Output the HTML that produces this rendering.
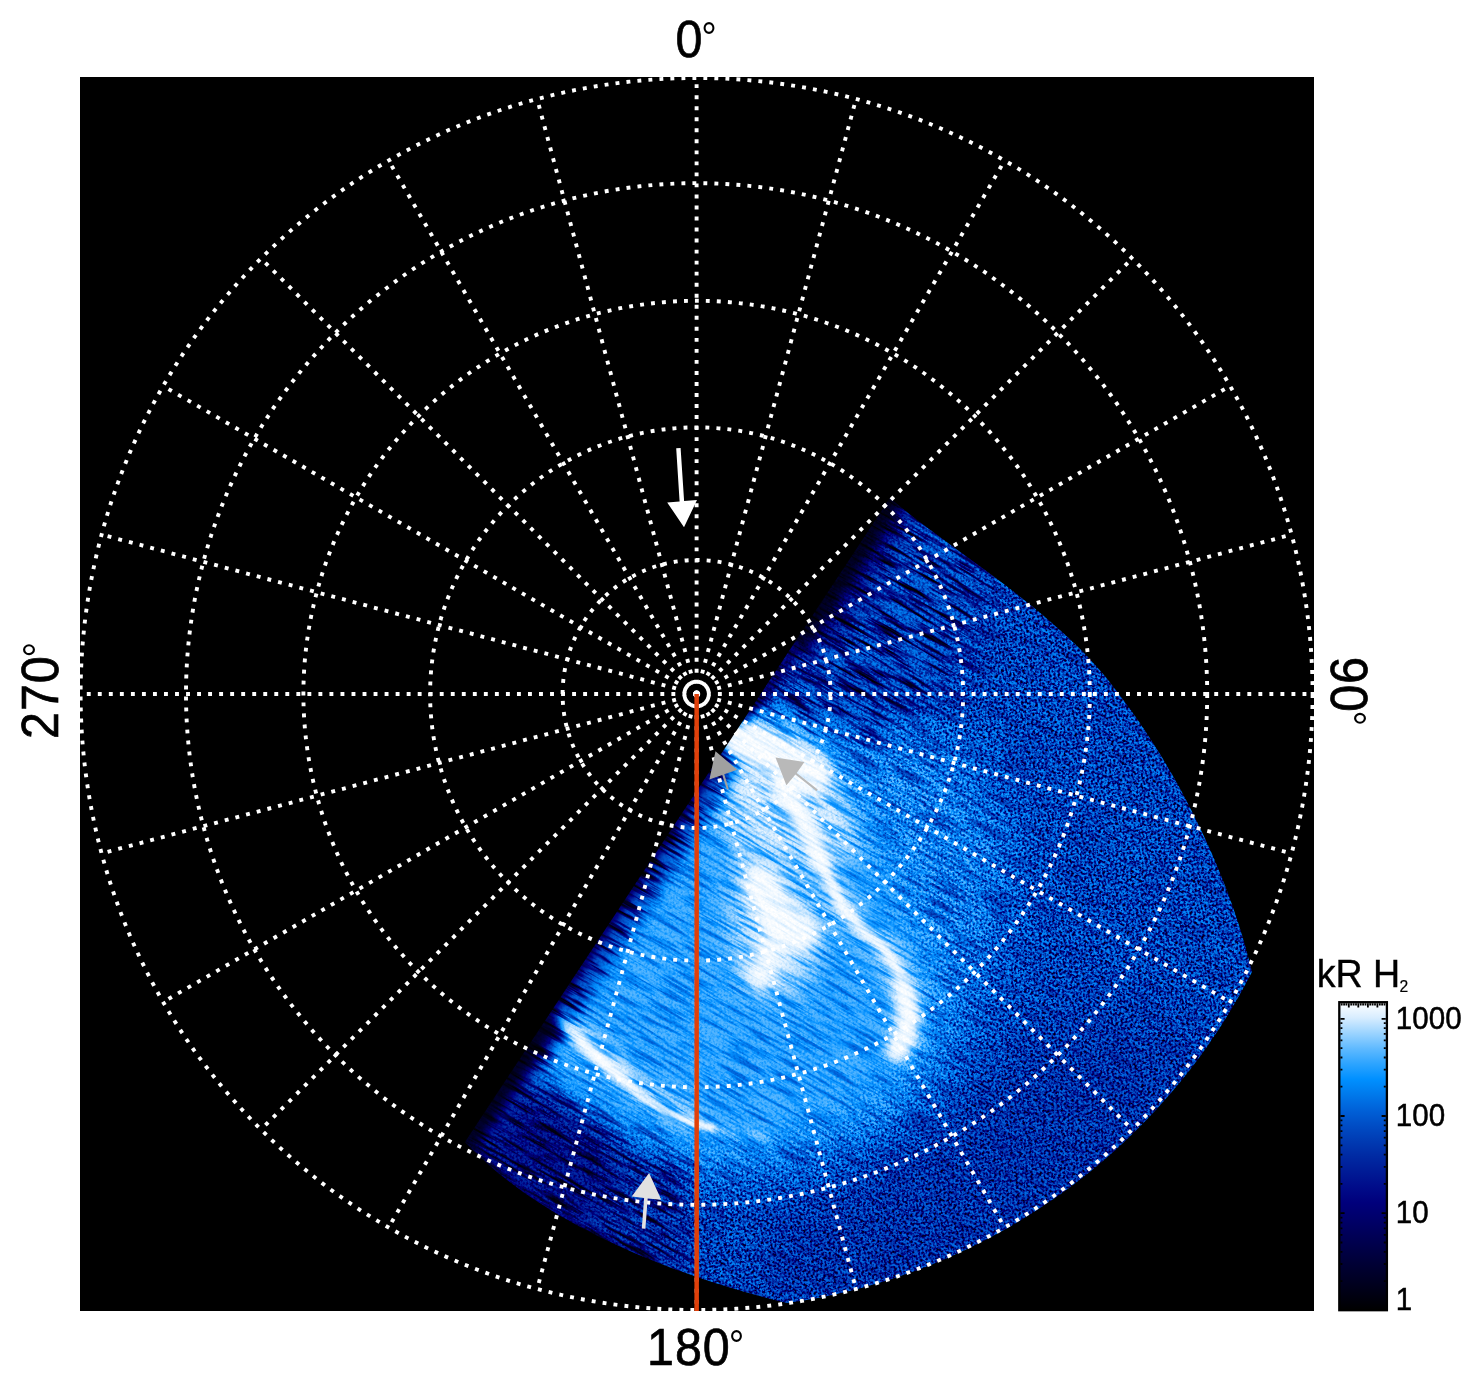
<!DOCTYPE html>
<html lang="en"><head><meta charset="utf-8"><title>Polar projection</title>
<style>
html,body{margin:0;padding:0;background:#fff;}
body{width:1481px;height:1386px;overflow:hidden;position:relative;}
svg{display:block;position:absolute;left:0;top:0;}
text{font-family:"Liberation Sans",sans-serif;fill:#000;}
</style></head><body>
<svg width="1481" height="1386" viewBox="0 0 1481 1386">
<defs>
<clipPath id="cpRect"><rect x="80" y="77" width="1234" height="1234"/></clipPath>
<clipPath id="cpData"><path d="M890,498 C950,550 1062,614 1118,693 C1178,770 1231,880 1252,972 A617,617 0 0 1 787,1303 C670,1275 540,1222 465,1142 Z"/></clipPath>
<linearGradient id="cbg" x1="0" y1="0" x2="0" y2="1"><stop offset="0.00" stop-color="rgb(255,255,255)"/><stop offset="0.05" stop-color="rgb(216,237,255)"/><stop offset="0.10" stop-color="rgb(156,212,255)"/><stop offset="0.15" stop-color="rgb(96,186,255)"/><stop offset="0.20" stop-color="rgb(45,164,255)"/><stop offset="0.25" stop-color="rgb(0,144,255)"/><stop offset="0.30" stop-color="rgb(0,121,235)"/><stop offset="0.35" stop-color="rgb(0,97,216)"/><stop offset="0.40" stop-color="rgb(0,77,197)"/><stop offset="0.45" stop-color="rgb(0,59,179)"/><stop offset="0.50" stop-color="rgb(0,42,163)"/><stop offset="0.55" stop-color="rgb(0,27,150)"/><stop offset="0.60" stop-color="rgb(0,12,138)"/><stop offset="0.65" stop-color="rgb(0,0,124)"/><stop offset="0.70" stop-color="rgb(0,0,107)"/><stop offset="0.75" stop-color="rgb(0,0,89)"/><stop offset="0.80" stop-color="rgb(0,0,71)"/><stop offset="0.85" stop-color="rgb(0,0,53)"/><stop offset="0.90" stop-color="rgb(0,0,36)"/><stop offset="0.95" stop-color="rgb(0,0,18)"/><stop offset="1.00" stop-color="rgb(0,0,0)"/></linearGradient>
<filter id="fcm" x="540" y="440" width="800" height="950" filterUnits="userSpaceOnUse" color-interpolation-filters="sRGB">
<feTurbulence type="fractalNoise" baseFrequency="0.022 0.33" numOctaves="3" seed="3" result="ts"/>
<feColorMatrix in="ts" type="matrix" values="3.5 0 0 0 -1.575  3.5 0 0 0 -1.575  3.5 0 0 0 -1.575  0 0 0 0 1" result="S"/>
<feTurbulence type="fractalNoise" baseFrequency="0.45" numOctaves="2" seed="7" result="tp"/>
<feColorMatrix in="tp" type="matrix" values="3.6 0 0 0 -1.62  3.6 0 0 0 -1.62  3.6 0 0 0 -1.62  0 0 0 0 1" result="P"/>
<feColorMatrix in="SourceGraphic" type="matrix" values="1 0 0 0 0  1 0 0 0 0  1 0 0 0 0  0 0 0 0 1" result="V"/>
<feColorMatrix in="SourceGraphic" type="matrix" values="0 1 0 0 0  0 1 0 0 0  0 1 0 0 0  0 0 0 0 1" result="WS"/>
<feColorMatrix in="SourceGraphic" type="matrix" values="0 0 1 0 0  0 0 1 0 0  0 0 1 0 0  0 0 0 0 1" result="WP"/>
<feComposite in="WS" in2="S" operator="arithmetic" k1="1" k2="0" k3="0" k4="0" result="A0"/>
<feColorMatrix in="A0" type="matrix" values="-1 0 0 0 1  0 -1 0 0 1  0 0 -1 0 1  0 0 0 0 1" result="A"/>
<feComposite in="WP" in2="P" operator="arithmetic" k1="1" k2="0" k3="0" k4="0" result="B0"/>
<feColorMatrix in="B0" type="matrix" values="-1 0 0 0 1  0 -1 0 0 1  0 0 -1 0 1  0 0 0 0 1" result="B"/>
<feComposite in="V" in2="A" operator="arithmetic" k1="1" k2="0" k3="0" k4="0" result="v1"/>
<feComposite in="v1" in2="B" operator="arithmetic" k1="1" k2="0" k3="0" k4="0" result="v"/>
<feComponentTransfer in="v">
<feFuncR type="table" tableValues="0.000 0.000 0.000 0.000 0.000 0.000 0.000 0.000 0.000 0.000 0.000 0.000 0.000 0.000 0.000 0.000 0.000 0.000 0.000 0.035 0.176 0.329 0.518 0.706 0.878 1.000"/>
<feFuncG type="table" tableValues="0.000 0.000 0.000 0.000 0.000 0.000 0.000 0.000 0.000 0.000 0.047 0.094 0.141 0.188 0.245 0.302 0.363 0.437 0.510 0.580 0.643 0.710 0.790 0.870 0.944 1.000"/>
<feFuncB type="table" tableValues="0.000 0.056 0.112 0.167 0.223 0.279 0.335 0.390 0.446 0.502 0.541 0.580 0.620 0.659 0.716 0.773 0.831 0.892 0.954 1.000 1.000 1.000 1.000 1.000 1.000 1.000"/>
</feComponentTransfer>
</filter>
<filter id="b2" filterUnits="userSpaceOnUse" x="300" y="350" width="1100" height="1100" color-interpolation-filters="sRGB"><feGaussianBlur stdDeviation="2"/></filter><filter id="b3" filterUnits="userSpaceOnUse" x="300" y="350" width="1100" height="1100" color-interpolation-filters="sRGB"><feGaussianBlur stdDeviation="3"/></filter><filter id="b4" filterUnits="userSpaceOnUse" x="300" y="350" width="1100" height="1100" color-interpolation-filters="sRGB"><feGaussianBlur stdDeviation="4"/></filter><filter id="b5" filterUnits="userSpaceOnUse" x="300" y="350" width="1100" height="1100" color-interpolation-filters="sRGB"><feGaussianBlur stdDeviation="5"/></filter><filter id="b6" filterUnits="userSpaceOnUse" x="300" y="350" width="1100" height="1100" color-interpolation-filters="sRGB"><feGaussianBlur stdDeviation="6"/></filter><filter id="b8" filterUnits="userSpaceOnUse" x="300" y="350" width="1100" height="1100" color-interpolation-filters="sRGB"><feGaussianBlur stdDeviation="8"/></filter><filter id="b10" filterUnits="userSpaceOnUse" x="300" y="350" width="1100" height="1100" color-interpolation-filters="sRGB"><feGaussianBlur stdDeviation="10"/></filter><filter id="b12" filterUnits="userSpaceOnUse" x="300" y="350" width="1100" height="1100" color-interpolation-filters="sRGB"><feGaussianBlur stdDeviation="12"/></filter><filter id="b15" filterUnits="userSpaceOnUse" x="300" y="350" width="1100" height="1100" color-interpolation-filters="sRGB"><feGaussianBlur stdDeviation="15"/></filter><filter id="b20" filterUnits="userSpaceOnUse" x="300" y="350" width="1100" height="1100" color-interpolation-filters="sRGB"><feGaussianBlur stdDeviation="20"/></filter><filter id="b25" filterUnits="userSpaceOnUse" x="300" y="350" width="1100" height="1100" color-interpolation-filters="sRGB"><feGaussianBlur stdDeviation="25"/></filter><filter id="b30" filterUnits="userSpaceOnUse" x="300" y="350" width="1100" height="1100" color-interpolation-filters="sRGB"><feGaussianBlur stdDeviation="30"/></filter><filter id="b40" filterUnits="userSpaceOnUse" x="300" y="350" width="1100" height="1100" color-interpolation-filters="sRGB"><feGaussianBlur stdDeviation="40"/></filter>
</defs>
<rect x="80" y="77" width="1234" height="1234" fill="#000"/>

<g clip-path="url(#cpData)"><g transform="rotate(30 850 900)"><g filter="url(#fcm)"><g transform="rotate(-30 850 900)">
<rect x="380" y="420" width="950" height="950" fill="rgb(189,38,255)"/>
<path d="M960,1080 L1100,1010 L1220,1060 L1150,1250 L800,1340 L740,1210 L860,1150 Z" fill="rgb(171,38,255)" filter="url(#b30)"/>
<path d="M751,690 L850,690 L960,740 L1015,830 L1000,930 L975,1030 L925,1120 L830,1170 L760,1185 L696,1185 L639,1170 L573,1145 L506,1100 L470,1100 Z" fill="rgb(219,76,115)" filter="url(#b30)"/>
<path d="M751,700 L820,720 L880,830 L930,960 L930,1050 L870,1110 L780,1150 L690,1160 L600,1130 L520,1090 L480,1100 Z" fill="rgb(215,51,26)" filter="url(#b20)"/>
<path d="M900,480 L1000,560 L960,680 L850,740 L750,700 Z" fill="rgb(181,255,102)" filter="url(#b20)"/>
<path d="M890,505 L815,625" fill="none" stroke="rgb(115,255,128)" stroke-width="44" stroke-linecap="round" stroke-linejoin="round" filter="url(#b12)"/>
<path d="M897,492 L800,640" fill="none" stroke="rgb(26,255,128)" stroke-width="22" stroke-linecap="round" stroke-linejoin="round" filter="url(#b6)"/>
<path d="M800,640 L762,698" fill="none" stroke="rgb(76,255,128)" stroke-width="10" stroke-linecap="round" stroke-linejoin="round" filter="url(#b4)"/>
<path d="M440,1130 L520,1075 L600,1130 L680,1170 L690,1300 L440,1240 Z" fill="rgb(166,230,153)" filter="url(#b15)"/>
<path d="M470,1160 L540,1225 L640,1268" fill="none" stroke="rgb(115,230,204)" stroke-width="26" stroke-linecap="round" stroke-linejoin="round" filter="url(#b8)"/>
<path d="M455,1135 L520,1085 L590,1135 L620,1200 L560,1240 Z" fill="rgb(128,230,153)" filter="url(#b15)"/>
<path d="M733,720 L800,725 L845,790 L862,850 L800,870 L740,850 L705,800 Z" fill="rgb(247,51,15)" filter="url(#b12)"/>
<path d="M735,840 L790,860 L820,910 L822,955 L795,1000 L750,995 L728,945 L730,890 Z" fill="rgb(242,51,15)" filter="url(#b12)"/>
<path d="M800,810 L814,850 L843,908 L886,951 L908,994 L903,1045" fill="none" stroke="rgb(237,51,15)" stroke-width="30" stroke-linecap="round" stroke-linejoin="round" filter="url(#b8)"/>
<path d="M556,1012 L596,1052 L640,1088 L690,1118" fill="none" stroke="rgb(242,64,15)" stroke-width="26" stroke-linecap="round" stroke-linejoin="round" filter="url(#b8)" opacity="0.75"/>
<path d="M716,760 L458,1152" fill="none" stroke="rgb(158,255,26)" stroke-width="44" stroke-linecap="round" stroke-linejoin="round" filter="url(#b8)"/>
<path d="M756,700 L458,1152" fill="none" stroke="rgb(76,255,26)" stroke-width="10" stroke-linecap="round" stroke-linejoin="round" filter="url(#b3)"/>
<path d="M736,737 L812,774" fill="none" stroke="rgb(255,10,5)" stroke-width="40" stroke-linecap="round" stroke-linejoin="round" filter="url(#b6)"/>
<path d="M783,786 L806,825 L820,860" fill="none" stroke="rgb(255,10,5)" stroke-width="22" stroke-linecap="round" stroke-linejoin="round" filter="url(#b5)"/>
<path d="M820,860 L843,908 L865,932 L886,951 L900,975" fill="none" stroke="rgb(255,10,5)" stroke-width="11" stroke-linecap="round" stroke-linejoin="round" filter="url(#b3)"/>
<path d="M902,985 L909,1010 L905,1040 L897,1050" fill="none" stroke="rgb(255,10,5)" stroke-width="22" stroke-linecap="round" stroke-linejoin="round" filter="url(#b5)"/>
<path d="M760,885 L778,915 L800,935" fill="none" stroke="rgb(255,10,5)" stroke-width="38" stroke-linecap="round" stroke-linejoin="round" filter="url(#b6)"/>
<path d="M775,940 L760,975" fill="none" stroke="rgb(255,10,5)" stroke-width="30" stroke-linecap="round" stroke-linejoin="round" filter="url(#b8)"/>
<path d="M580,1041 L601,1062 L623,1080 L645,1099 L666,1112 L694,1123 L712,1128" fill="none" stroke="rgb(255,10,5)" stroke-width="7" stroke-linecap="round" stroke-linejoin="round" filter="url(#b2)"/>
<path d="M712,1128 L740,1133 L765,1137" fill="none" stroke="rgb(255,10,5)" stroke-width="6" stroke-linecap="round" stroke-linejoin="round" filter="url(#b3)" opacity="0.5"/>
<path d="M560,1020 L592,1050 L622,1074" fill="none" stroke="rgb(255,10,5)" stroke-width="14" stroke-linecap="round" stroke-linejoin="round" filter="url(#b5)" opacity="0.85"/>
<path d="M545,1025 L460,1152" fill="none" stroke="rgb(31,255,76)" stroke-width="24" stroke-linecap="round" stroke-linejoin="round" filter="url(#b6)"/>
<path d="M462,1148 L540,1224 L610,1256" fill="none" stroke="rgb(51,230,153)" stroke-width="18" stroke-linecap="round" stroke-linejoin="round" filter="url(#b6)"/>
</g></g></g></g>
<g clip-path="url(#cpRect)" fill="none" stroke="#fff" stroke-width="3.90">
<path d="M1312.6,694.0 A616.0,616.0 0 1 0 80.6,694.0 A616.0,616.0 0 1 0 1312.6,694.0" stroke-dasharray="3.900 7.120" stroke-dashoffset="1.95"/>
<path d="M1207.2,694.0 A510.6,510.6 0 1 0 186.0,694.0 A510.6,510.6 0 1 0 1207.2,694.0" stroke-dasharray="3.900 7.120" stroke-dashoffset="1.95"/>
<path d="M1089.8,694.0 A393.2,393.2 0 1 0 303.4,694.0 A393.2,393.2 0 1 0 1089.8,694.0" stroke-dasharray="3.900 7.120" stroke-dashoffset="1.95"/>
<path d="M963.1,694.0 A266.5,266.5 0 1 0 430.1,694.0 A266.5,266.5 0 1 0 963.1,694.0" stroke-dasharray="3.900 7.120" stroke-dashoffset="1.95"/>
<path d="M830.6,694.0 A134.0,134.0 0 1 0 562.6,694.0 A134.0,134.0 0 1 0 830.6,694.0" stroke-dasharray="3.900 7.120" stroke-dashoffset="1.95"/>
<line x1="696.6" y1="694.0" x2="696.60" y2="78.00" stroke-dasharray="3.90 7.13" stroke-dashoffset="0.75"/>
<line x1="696.6" y1="694.0" x2="856.03" y2="98.99" stroke-dasharray="3.90 7.13" stroke-dashoffset="0.75"/>
<line x1="696.6" y1="694.0" x2="1004.60" y2="160.53" stroke-dasharray="3.90 7.13" stroke-dashoffset="0.75"/>
<line x1="696.6" y1="694.0" x2="1132.18" y2="258.42" stroke-dasharray="3.90 7.13" stroke-dashoffset="0.75"/>
<line x1="696.6" y1="694.0" x2="1230.07" y2="386.00" stroke-dasharray="3.90 7.13" stroke-dashoffset="0.75"/>
<line x1="696.6" y1="694.0" x2="1291.61" y2="534.57" stroke-dasharray="3.90 7.13" stroke-dashoffset="0.75"/>
<line x1="696.6" y1="694.0" x2="1312.60" y2="694.00" stroke-dasharray="3.90 7.13" stroke-dashoffset="0.75"/>
<line x1="696.6" y1="694.0" x2="1291.61" y2="853.43" stroke-dasharray="3.90 7.13" stroke-dashoffset="0.75"/>
<line x1="696.6" y1="694.0" x2="1230.07" y2="1002.00" stroke-dasharray="3.90 7.13" stroke-dashoffset="0.75"/>
<line x1="696.6" y1="694.0" x2="1132.18" y2="1129.58" stroke-dasharray="3.90 7.13" stroke-dashoffset="0.75"/>
<line x1="696.6" y1="694.0" x2="1004.60" y2="1227.47" stroke-dasharray="3.90 7.13" stroke-dashoffset="0.75"/>
<line x1="696.6" y1="694.0" x2="856.03" y2="1289.01" stroke-dasharray="3.90 7.13" stroke-dashoffset="0.75"/>
<line x1="696.6" y1="694.0" x2="696.60" y2="1310.00" stroke-dasharray="3.90 7.13" stroke-dashoffset="0.75"/>
<line x1="696.6" y1="694.0" x2="537.17" y2="1289.01" stroke-dasharray="3.90 7.13" stroke-dashoffset="0.75"/>
<line x1="696.6" y1="694.0" x2="388.60" y2="1227.47" stroke-dasharray="3.90 7.13" stroke-dashoffset="0.75"/>
<line x1="696.6" y1="694.0" x2="261.02" y2="1129.58" stroke-dasharray="3.90 7.13" stroke-dashoffset="0.75"/>
<line x1="696.6" y1="694.0" x2="163.13" y2="1002.00" stroke-dasharray="3.90 7.13" stroke-dashoffset="0.75"/>
<line x1="696.6" y1="694.0" x2="101.59" y2="853.43" stroke-dasharray="3.90 7.13" stroke-dashoffset="0.75"/>
<line x1="696.6" y1="694.0" x2="80.60" y2="694.00" stroke-dasharray="3.90 7.13" stroke-dashoffset="0.75"/>
<line x1="696.6" y1="694.0" x2="101.59" y2="534.57" stroke-dasharray="3.90 7.13" stroke-dashoffset="0.75"/>
<line x1="696.6" y1="694.0" x2="163.13" y2="386.00" stroke-dasharray="3.90 7.13" stroke-dashoffset="0.75"/>
<line x1="696.6" y1="694.0" x2="261.02" y2="258.42" stroke-dasharray="3.90 7.13" stroke-dashoffset="0.75"/>
<line x1="696.6" y1="694.0" x2="388.60" y2="160.53" stroke-dasharray="3.90 7.13" stroke-dashoffset="0.75"/>
<line x1="696.6" y1="694.0" x2="537.17" y2="98.99" stroke-dasharray="3.90 7.13" stroke-dashoffset="0.75"/>
</g>
<rect x="694.4" y="694" width="4.5" height="617" fill="#e0400a"/>
<path fill="#fff" d="M676.2,448.2 L680.6,448 L684.1,501 L697,500 L684,527.2 L667.2,502.4 L679.6,501.4 Z"/>
<path fill="#e1e1e1" d="M649.1,1173.1 L661.3,1199.8 L647.7,1198.4 L645.4,1228.8 L641.8,1228.5 L644.1,1198 L631.7,1196.5 Z"/>
<path fill="#a0a0a0" d="M715.5,751.3 L737.3,769.7 L724.3,774.3 L728.7,788.8 L726.9,789.4 L722.3,775 L709.4,779.6 Z"/>
<path fill="#b9b9b9" d="M775.5,757.4 L804.4,762.1 L796.7,772.9 L817.7,789.6 L816.4,791.3 L795.4,774.6 L786.4,785.3 Z"/>

<text font-size="52.4" letter-spacing="1" stroke="#000" stroke-width="0.7" transform="translate(675.4,57.4) scale(0.925,1)">0<tspan font-size="42" dx="-2.2" dy="-5" stroke="none">°</tspan></text>
<text font-size="52.4" letter-spacing="1" stroke="#000" stroke-width="0.7" transform="translate(647.1,1364.6) scale(0.925,1)">180<tspan font-size="42" dx="-2.2" dy="-5" stroke="none">°</tspan></text>
<text font-size="52.4" letter-spacing="1" stroke="#000" stroke-width="0.7" transform="translate(57.6,739) rotate(-90) scale(0.925,1)">270<tspan font-size="42" dx="-2.2" dy="-5" stroke="none">°</tspan></text>
<text font-size="52.4" letter-spacing="1" stroke="#000" stroke-width="0.7" transform="translate(1331.3,656.8) rotate(90) scale(0.925,1)">90<tspan font-size="42" dx="-2.2" dy="-5" stroke="none">°</tspan></text>
<text font-size="38.4" stroke="#000" stroke-width="0.4" transform="translate(1316.7,986.5) scale(0.979,1)">kR H<tspan font-size="16" dx="-0.8" dy="5.2" stroke-width="0.2">2</tspan></text>
<rect x="1339.3" y="1002.2" width="47.6" height="308" fill="url(#cbg)" stroke="#000" stroke-width="2.3"/>
<path stroke="#000" stroke-width="1.8" fill="none" d="M1340.4,1281.1h2.0M1385.8,1281.1h-2.0M1340.4,1264.0h2.0M1385.8,1264.0h-2.0M1340.4,1251.9h2.0M1385.8,1251.9h-2.0M1340.4,1242.5h2.0M1385.8,1242.5h-2.0M1340.4,1234.8h2.0M1385.8,1234.8h-2.0M1340.4,1228.3h2.0M1385.8,1228.3h-2.0M1340.4,1222.6h2.0M1385.8,1222.6h-2.0M1340.4,1217.6h2.0M1385.8,1217.6h-2.0M1340.4,1213.2h4.2M1385.8,1213.2h-4.2M1340.4,1183.9h2.0M1385.8,1183.9h-2.0M1340.4,1166.8h2.0M1385.8,1166.8h-2.0M1340.4,1154.7h2.0M1385.8,1154.7h-2.0M1340.4,1145.3h2.0M1385.8,1145.3h-2.0M1340.4,1137.6h2.0M1385.8,1137.6h-2.0M1340.4,1131.1h2.0M1385.8,1131.1h-2.0M1340.4,1125.4h2.0M1385.8,1125.4h-2.0M1340.4,1120.4h2.0M1385.8,1120.4h-2.0M1340.4,1116.0h4.2M1385.8,1116.0h-4.2M1340.4,1086.7h2.0M1385.8,1086.7h-2.0M1340.4,1069.6h2.0M1385.8,1069.6h-2.0M1340.4,1057.5h2.0M1385.8,1057.5h-2.0M1340.4,1048.1h2.0M1385.8,1048.1h-2.0M1340.4,1040.4h2.0M1385.8,1040.4h-2.0M1340.4,1033.9h2.0M1385.8,1033.9h-2.0M1340.4,1028.2h2.0M1385.8,1028.2h-2.0M1340.4,1023.2h2.0M1385.8,1023.2h-2.0M1340.4,1018.8h4.2M1385.8,1018.8h-4.2M1341.7,1003.3v2.2M1344.1,1003.3v2.2M1346.4,1003.3v2.2M1348.8,1003.3v4.2M1351.2,1003.3v2.2M1353.6,1003.3v2.2M1356.0,1003.3v2.2M1358.3,1003.3v4.2M1360.7,1003.3v2.2M1363.1,1003.3v2.2M1365.5,1003.3v2.2M1367.9,1003.3v4.2M1370.2,1003.3v2.2M1372.6,1003.3v2.2M1375.0,1003.3v2.2M1377.4,1003.3v4.2M1379.8,1003.3v2.2M1382.1,1003.3v2.2M1384.5,1003.3v2.2"/>
<text font-size="30.5" stroke="#000" stroke-width="0.5" transform="translate(1395.8,1029.1) scale(0.97,1)">1000</text>
<text font-size="30.5" stroke="#000" stroke-width="0.5" transform="translate(1395.8,1125.9) scale(0.97,1)">100</text>
<text font-size="30.5" stroke="#000" stroke-width="0.5" transform="translate(1395.8,1222.8) scale(0.97,1)">10</text>
<text font-size="30.5" stroke="#000" stroke-width="0.5" transform="translate(1395.8,1309.9) scale(0.97,1)">1</text>
</svg></body></html>
